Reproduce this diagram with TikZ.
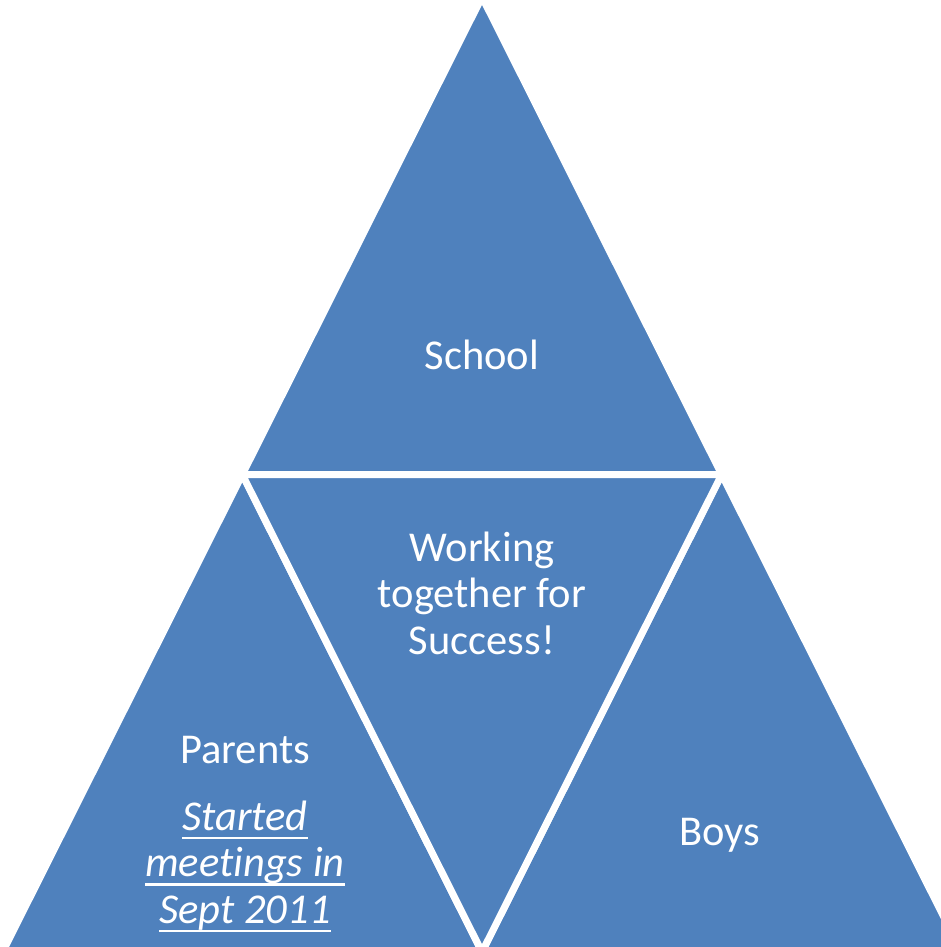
\documentclass[tikz,border=0pt]{standalone}
\usepackage{fontspec}
\setmainfont{Carlito}[Ligatures=NoCommon]
\usepackage{tikz}
\definecolor{officeblue}{HTML}{4F81BD}
\tikzset{
    part/.style={fill=officeblue, draw=white, line width=7pt, line join=miter},
    tritext/.style={text=white, align=center, font=\fontsize{42.5}{46.5}\selectfont}
}
\newcommand{\ul}[1]{\setbox0\hbox{#1}\leavevmode\rlap{\raisebox{-9pt}{\rule{\wd0}{2.6pt}}}\box0}

\begin{document}
\begin{tikzpicture}[x=1pt,y=-1pt]
        \useasboundingbox (0,0) rectangle (941,947);
        \clip (0,0) rectangle (941,947);
        % corners of the big triangle
        \coordinate (top) at (482,-3);
        \coordinate (bl) at (2.6,952);
        \coordinate (br) at (961.4,952);
        % middle points
        \coordinate (ml) at (242.3,474.5);
        \coordinate (mr) at (721.7,474.5);
        \coordinate (mb) at (482,952);

        % four parts
        \filldraw[part] (top) -- (mr) -- (ml) -- cycle;
        \filldraw[part] (ml) -- (mb) -- (bl) -- cycle;
        \filldraw[part] (mr) -- (br) -- (mb) -- cycle;
        \filldraw[part] (ml) -- (mr) -- (mb) -- cycle;

        % texts
        \node[tritext] (school) at (482,355) {School};
        \node[tritext] (working) at (482,593) {Working\\together for\\Success!};
        \node[tritext] (parents) at (245,750) {Parents};
        \node[tritext] (started) at (245,866.5) {\itshape\ul{Started}\\\itshape\ul{meetings in}\\\itshape\ul{Sept 2011}};
        \node[tritext] (boys) at (720,835) {Boys};
    \end{tikzpicture}
\end{document}
